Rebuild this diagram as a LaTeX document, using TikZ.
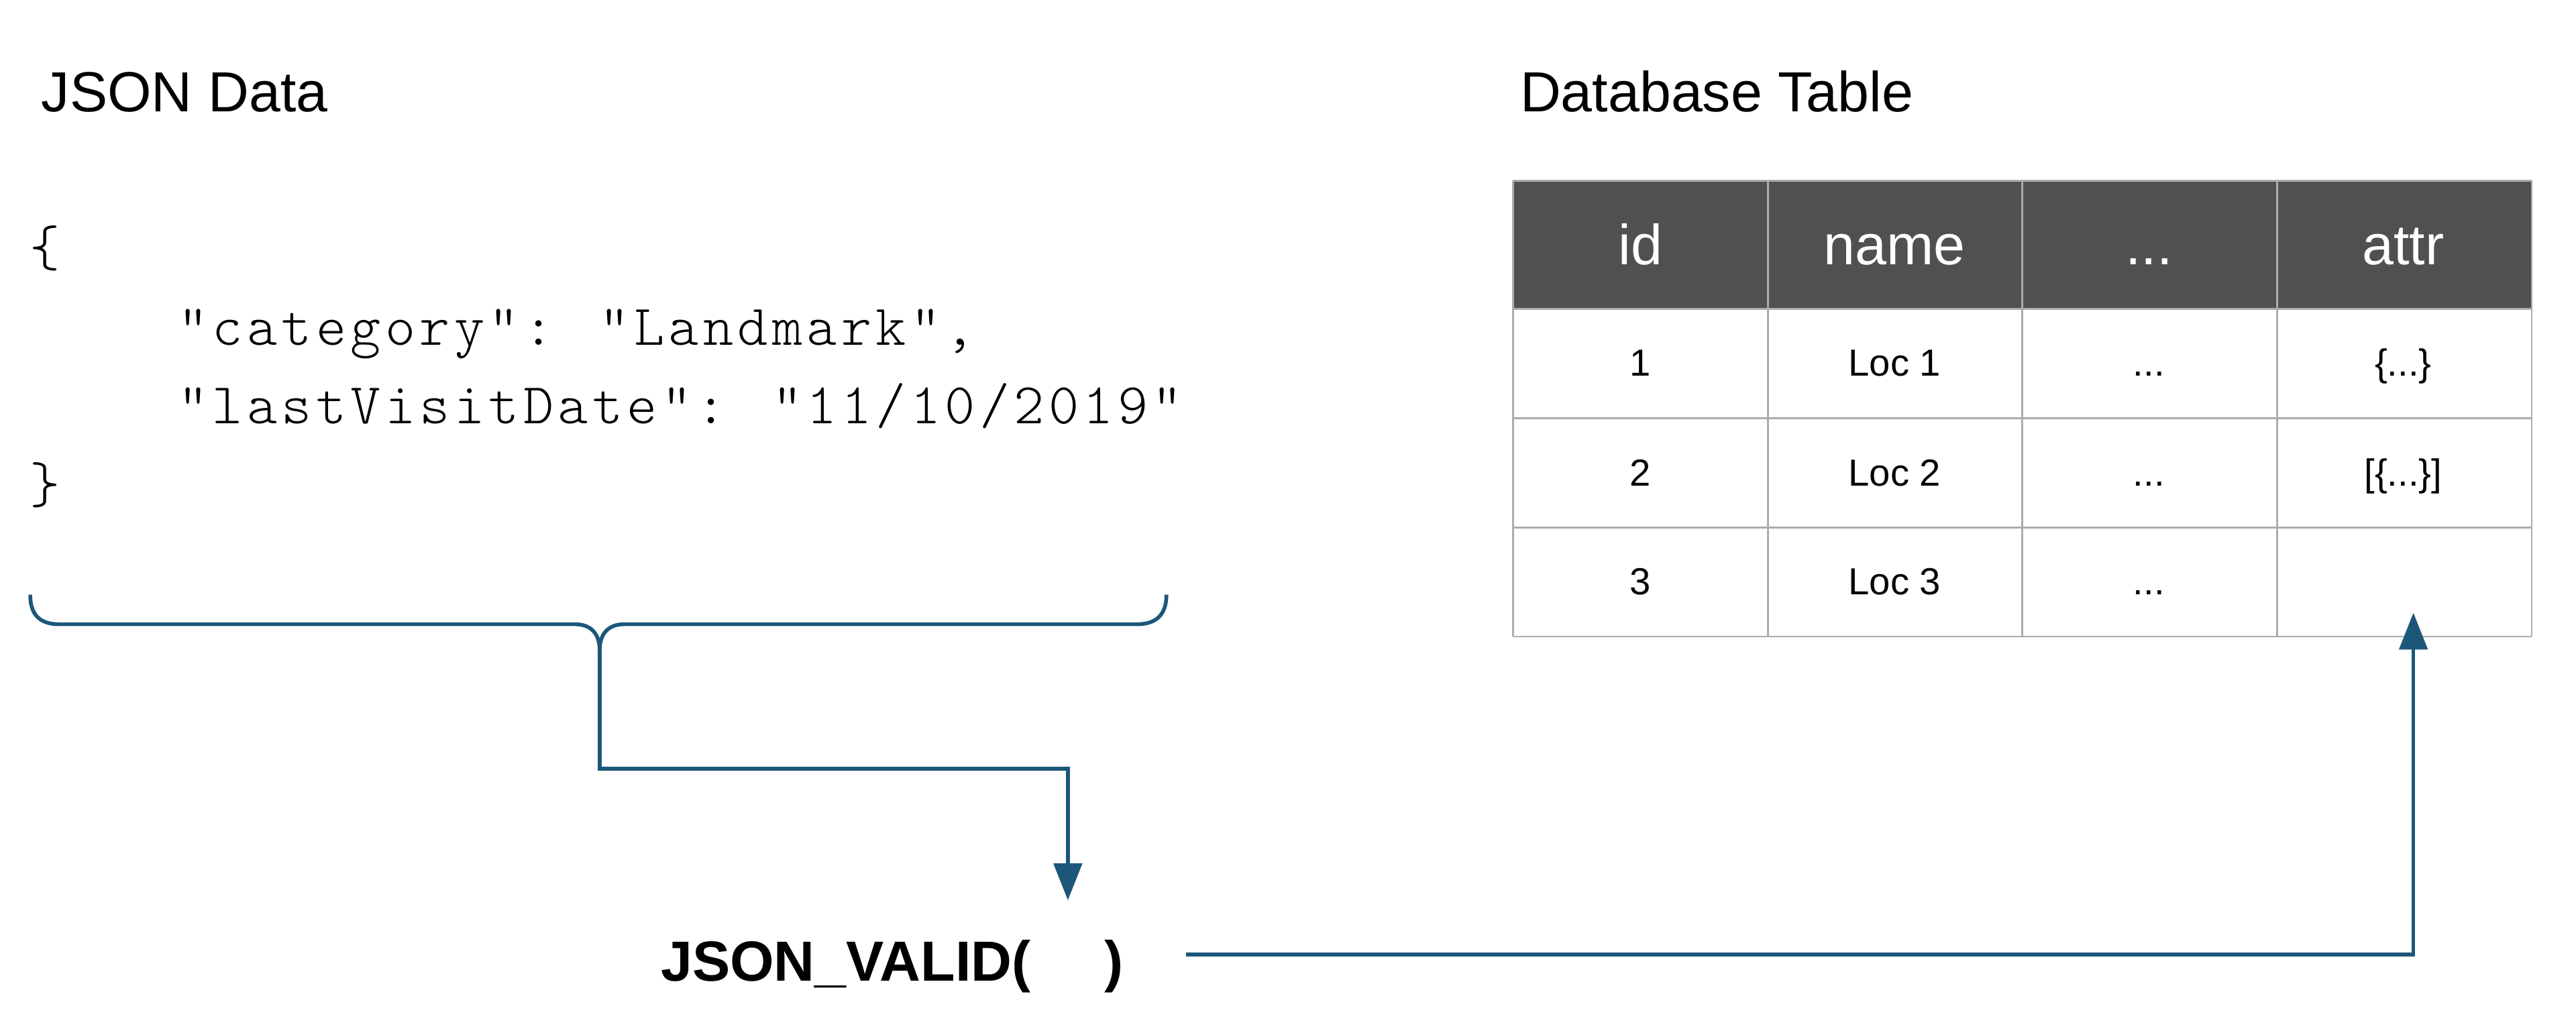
\documentclass[tikz,border=0pt]{standalone}
\usepackage{fontspec}
\setmainfont{Liberation Sans}
\newfontfamily\codefont{lmmonolt10-regular.otf}[LetterSpace=7.3]
\usetikzlibrary{arrows.meta}

\definecolor{linkblue}{RGB}{28,87,122}
\definecolor{headgray}{RGB}{80,80,80}
\definecolor{gridgray}{RGB}{172,172,172}

\begin{document}
\begin{tikzpicture}[x=0.02449cm,y=-0.02449cm,
    title/.style={anchor=base west,inner sep=0pt,font=\fontsize{24}{29}\selectfont},
    code/.style={anchor=base west,inner sep=0pt,font=\codefont\fontsize{24.5}{29}\selectfont},
    head/.style={anchor=base,text=white,inner sep=0pt,font=\fontsize{24}{29}\selectfont},
    cell/.style={anchor=base,inner sep=0pt,font=\fontsize{16}{19}\selectfont},
    link/.style={draw=linkblue,line width=1.6pt},
    tip/.style={-{Triangle[width=0.42cm,length=0.55cm]}}]
				\useasboundingbox (0,0) rectangle (1568,630);

				\node [title] (jsontitle) at (25,68) {JSON Data};
				\node [title] (tabletitle) at (925,68) {Database Table};

				\node [code] (open) at (18,162) {\{};
				\node [code] (category) at (108,210) {"category": "Landmark",};
				\node [code] (visit) at (108,258) {"lastVisitDate": "11/10/2019"};
				\node [code] (close) at (18,306) {\}};

				\fill [headgray] (921,110) rectangle (1541,188);

				\foreach \x in {921, 1076, 1231, 1386, 1541}
				{
					\draw [gridgray,line width=0.8pt] (\x,110) -- (\x,387.5);
				}

				\foreach \y in {110, 188, 254.5, 321, 387.5}
				{
					\draw [gridgray,line width=0.8pt] (921,\y) -- (1541,\y);
				}

				\node [head] (head-id) at (998.5,161) {id};
				\node [head] (head-name) at (1153.25,161) {name};
				\node [head] (head-dots) at (1308,161) {...};
				\node [head] (head-attr) at (1462.75,161) {attr};

                \foreach \r/\y in {1/229, 2/296, 3/362}
                {
                    \node [cell] (id-\r) at (998.5, \y) {\r};
                    \node [cell] (name-\r) at (1153.25, \y) {Loc \r};
                    \node [cell] (dots-\r) at (1308, \y) {...};
                }

				\node [cell] (attr-1) at (1462.75,229) {\{...\}};
				\node [cell] (attr-2) at (1462.75,296) {[\{...\}]};
				\coordinate (attr-3) at (1469,373);

				\node [anchor=base west,inner sep=0pt,font=\bfseries\fontsize{24}{29}\selectfont] (valid) at (402,597) {JSON\_VALID(\hspace{1.3em})};
				\coordinate (slot) at (650,548);
				\coordinate (validout) at (722,581);

				\draw [link,line join=round] (18.4,362) .. controls (18.4,374) and (24,380) .. (36,380) -- (350,380) .. controls (360,380) and (365,386) .. (365,396)
					.. controls (365,386) and (370,380) .. (380,380) -- (692,380) .. controls (704,380) and (710,374) .. (710,362);
				\coordinate (bracetip) at (365,396);

				\draw [link,tip] (bracetip) -- (365,468) -| (slot);
				\draw [link,tip] (validout) -| (attr-3);
		\end{tikzpicture}
\end{document}
